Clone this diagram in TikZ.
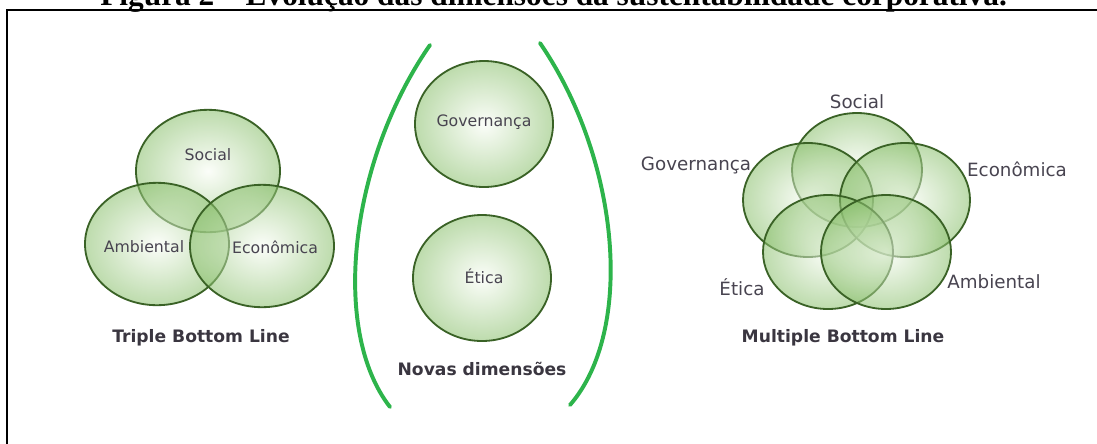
\documentclass[tikz,border=0pt]{standalone}
\usepackage{fontspec}
\setmainfont{Liberation Serif}
\newfontfamily\lblfont{DejaVu Sans}
\usetikzlibrary{positioning}

\definecolor{bubbleedge}{RGB}{58,98,38}
\definecolor{bubblein}{RGB}{248,252,244}
\definecolor{bubbleout}{RGB}{135,190,105}
\definecolor{arcgreen}{RGB}{45,180,75}
\definecolor{lblgray}{RGB}{72,68,80}

\tikzset{
  bubble/.style={draw=bubbleedge, line width=1.3pt, inner color=bubblein, outer color=bubbleout, fill opacity=0.55},
  lbl/.style={text=lblgray, inner sep=0pt, font=\lblfont\fontsize{11.2}{13}\selectfont},
  biglbl/.style={lbl, font=\lblfont\fontsize{13}{15}\selectfont},
  caption/.style={text=lblgray!80!black, inner sep=0pt, font=\lblfont\bfseries\fontsize{12.2}{14}\selectfont},
  bracket/.style={draw=arcgreen, line width=2.8pt, line cap=round}
}

\begin{document}
\begin{tikzpicture}
\useasboundingbox (0,0) rectangle (27.425,-11.075);

%% title (cut by the page) and frame
\node[anchor=base west, inner sep=0pt, font=\bfseries\fontsize{22.3}{26}\selectfont] (title) at (2.5,-0.125)
  {Figura 2 – Evolução das dimensões da sustentabilidade corporativa.};
\draw[line width=1.4pt] (0.18,-11.5) -- (0.18,-0.25) -- (27.8,-0.25);

%% triple bottom line
\draw[bubble] (5.2,-4.275) ellipse (1.8 and 1.53);
\draw[bubble] (3.925,-6.1) ellipse (1.8 and 1.53);
\draw[bubble] (6.55,-6.15) ellipse (1.8 and 1.53);
\node[lbl] (tbl-social) at (5.2,-3.875) {Social};
\node[lbl] (tbl-amb) at (3.6,-6.175) {Ambiental};
\node[lbl] (tbl-eco) at (6.875,-6.175) {Econômica};
\node[caption] (tbl) at (5.025,-8.45) {Triple Bottom Line};

%% new dimensions between the two brackets
\draw[bracket] (10.75,-1.125) .. controls (8.75,-4.0) and (8.25,-8.25) .. (9.75,-10.175);
\draw[bracket] (13.5,-1.075) .. controls (15.5,-4.0) and (15.875,-8.25) .. (14.25,-10.125);
\draw[bubble] (12.1,-3.1) ellipse (1.725 and 1.575);
\draw[bubble] (12.05,-6.95) ellipse (1.725 and 1.575);
\node[lbl] (nd-gov) at (12.1,-3.05) {Governança};
\node[lbl] (nd-etica) at (12.1,-6.9) {Ética};
\node[caption] (nd) at (12.05,-9.225) {Novas dimensões};

%% multiple bottom line (five circles)
\foreach \x/\y in {21.425/-4.25, 20.2/-5.0, 22.625/-5.0, 20.7/-6.3, 22.15/-6.3}
  {
  \draw[bubble] (\x,\y) ellipse (1.625 and 1.425);
  }
\node[biglbl] (mbl-social) at (21.425,-2.55) {Social};
\node[biglbl] (mbl-gov) at (17.4,-4.125) {Governança};
\node[biglbl] (mbl-eco) at (25.425,-4.225) {Econômica};
\node[biglbl] (mbl-etica) at (18.55,-7.175) {Ética};
\node[biglbl] (mbl-amb) at (24.85,-7.05) {Ambiental};
\node[caption] (mbl) at (21.075,-8.45) {Multiple Bottom Line};

\end{tikzpicture}
\end{document}
